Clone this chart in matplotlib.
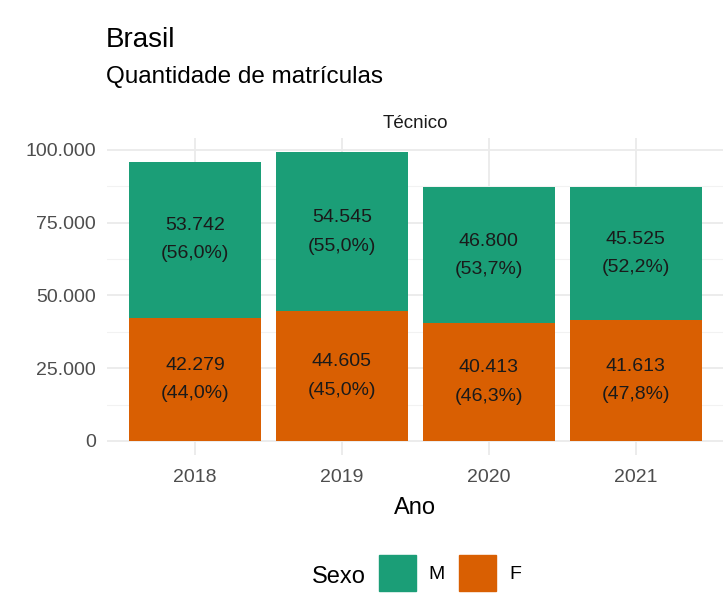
import matplotlib
matplotlib.use("Agg")
import matplotlib.pyplot as plt
from matplotlib.patches import Patch
from matplotlib.ticker import FuncFormatter, MultipleLocator

plt.rcParams['font.family'] = ['Liberation Sans', 'DejaVu Sans']

# dados
anos = ['2018', '2019', '2020', '2021']
masc = [53742, 54545, 46800, 45525]
fem = [42279, 44605, 40413, 41613]

cor_m = '#1B9E77'
cor_f = '#D95F02'

W, H = 723, 609
fig = plt.figure(figsize=(W / 100, H / 100), dpi=100)

# painel (em pixels: x 106.8 -> 724, y 138 -> 455.4)
ax = fig.add_axes([106.8 / W, 1 - 455.4 / H, 617.2 / W, 317.4 / H])

def fmt_mil(v):
    return '{:,}'.format(int(round(v))).replace(',', '.')

pos = list(range(1, len(anos) + 1))
ax.bar(pos, fem, width=0.9, color=cor_f, zorder=2)
ax.bar(pos, masc, width=0.9, bottom=fem, color=cor_m, zorder=2)

for i in range(len(anos)):
    tot = masc[i] + fem[i]
    pm = masc[i] / tot * 100
    pf = fem[i] / tot * 100
    lab_m = fmt_mil(masc[i]) + '\n(' + ('%.1f' % pm).replace('.', ',') + '%)'
    lab_f = fmt_mil(fem[i]) + '\n(' + ('%.1f' % pf).replace('.', ',') + '%)'
    ax.text(pos[i], fem[i] + masc[i] / 2, lab_m, ha='center', va='center',
            fontsize=14, color='#1a1a1a', linespacing=1.88, zorder=3)
    ax.text(pos[i], fem[i] / 2, lab_f, ha='center', va='center',
            fontsize=14, color='#1a1a1a', linespacing=1.88, zorder=3)

topo = max(m + f for m, f in zip(masc, fem))
ax.set_xlim(0.4, len(anos) + 0.6)
ax.set_ylim(-0.05 * topo, 1.05 * topo)
ax.set_xticks(pos)
ax.set_xticklabels(anos)
ax.yaxis.set_major_locator(MultipleLocator(25000))
ax.yaxis.set_minor_locator(MultipleLocator(12500))
ax.yaxis.set_major_formatter(FuncFormatter(lambda v, p: fmt_mil(v)))

ax.grid(which='major', color='#EBEBEB', linewidth=1.3, zorder=0)
ax.grid(which='minor', axis='y', color='#F2F2F2', linewidth=0.8, zorder=0)
ax.set_axisbelow(True)
for s in ax.spines.values():
    s.set_visible(False)
ax.tick_params(which='both', length=0, labelsize=14, colors='#4D4D4D')
ax.tick_params(axis='y', pad=8)
ax.tick_params(axis='x', pad=10)

ax.set_xlabel('Ano', fontsize=17, color='black', labelpad=8)

# titulos
fig.text(106 / W, 1 - 47 / H, 'Brasil', fontsize=20, va='baseline', ha='left')
fig.text(106 / W, 1 - 83 / H, 'Quantidade de matrículas', fontsize=17.5,
         va='baseline', ha='left')
fig.text(415 / W, 1 - 128 / H, 'Técnico', fontsize=13.5, va='baseline',
         ha='center', color='#1a1a1a')

# legenda
fig.text(312 / W, 1 - 583 / H, 'Sexo', fontsize=17, va='baseline', ha='left')
handles = [Patch(color=cor_m, label='M'), Patch(color=cor_f, label='F')]
fig.legend(handles=handles, ncol=2, loc='center',
           bbox_to_anchor=(450 / W, 1 - 573 / H), frameon=False,
           fontsize=14, handlelength=1.9, handleheight=2.4,
           handletextpad=0.65, columnspacing=0.75, borderpad=0)

fig.savefig('out.png', dpi=100)
